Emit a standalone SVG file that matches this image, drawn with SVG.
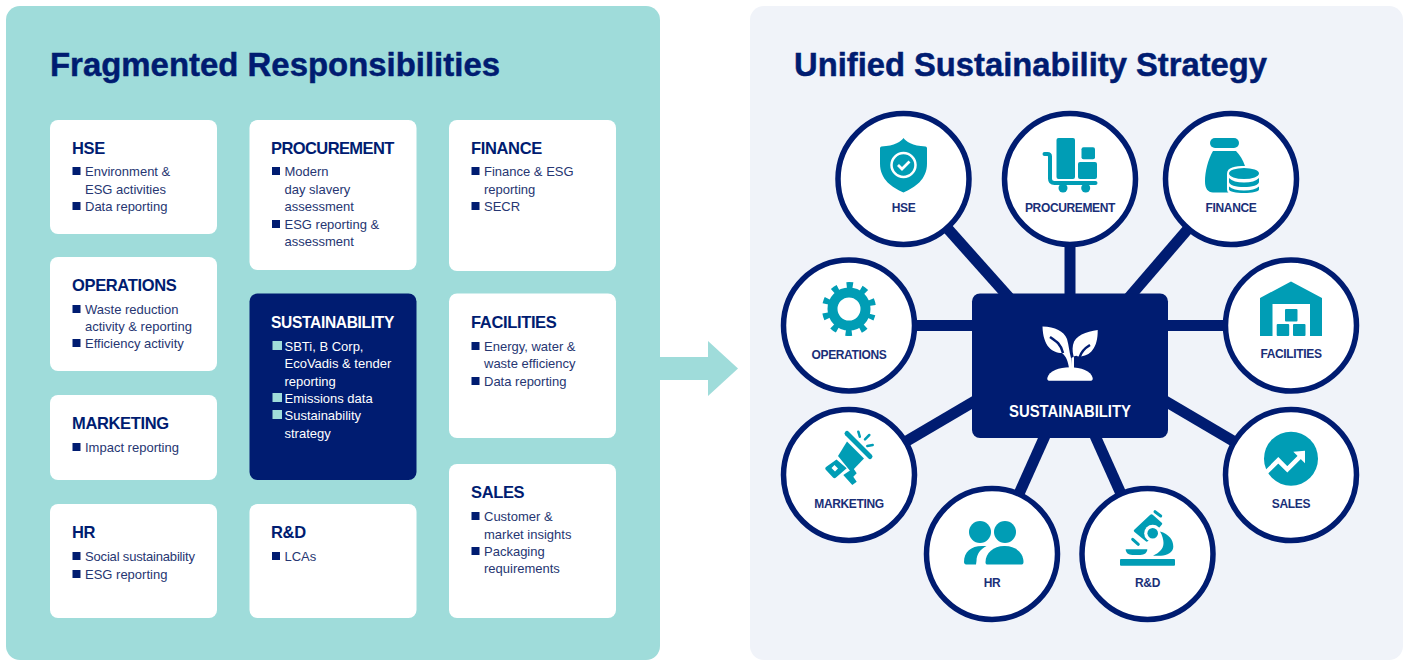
<svg xmlns="http://www.w3.org/2000/svg" width="1407" height="660" viewBox="0 0 1407 660">
<defs><style>
text{font-family:"Liberation Sans",Arial,sans-serif}
.title{font-size:34px;font-weight:700;fill:#001c71;stroke:#001c71;stroke-width:.5px}
.card{fill:#fff}
.dark{fill:#001c71}
.h{font-size:16.5px;font-weight:700;fill:#001c71;letter-spacing:-.35px}
.t{font-size:13px;fill:#263672}
.b{fill:#001c71}
.dk .h,.dk .t{fill:#fff}
.dk .b{fill:#9fdcda}
.c{fill:#fff;stroke:#001c71;stroke-width:5.5}
.l{font-size:12px;font-weight:700;fill:#1a2f78;text-anchor:middle;letter-spacing:-.35px}
.i{fill:#009db5}
.w{fill:#fff}
.ln{stroke:#001c71;stroke-width:11;fill:none}
</style></defs>
<rect x="6" y="6" width="654" height="654" rx="14" fill="#9fdcda"/>
<rect x="750" y="6" width="653" height="654" rx="14" fill="#f0f3f9"/>
<polygon points="660,357 708,357 708,341 738,368.5 708,396 708,380 660,380" fill="#9fdcda"/>
<text class="title" x="50" y="76" textLength="450" lengthAdjust="spacingAndGlyphs">Fragmented Responsibilities</text>
<text class="title" x="794" y="76" textLength="473" lengthAdjust="spacingAndGlyphs">Unified Sustainability Strategy</text>

<g id="card-hse"><rect class="card" x="50" y="120" width="167" height="114" rx="8"/><text class="h" x="72" y="154">HSE</text><rect class="b" x="72.500" y="167" width="8" height="8"/><text class="t" x="85" y="176">Environment &amp;</text><text class="t" x="85" y="194">ESG activities</text><rect class="b" x="72.500" y="202" width="8" height="8"/><text class="t" x="85" y="211">Data reporting</text></g>
<g id="card-operations"><rect class="card" x="50" y="257" width="167" height="114" rx="8"/><text class="h" x="72" y="291">OPERATIONS</text><rect class="b" x="72.500" y="305" width="8" height="8"/><text class="t" x="85" y="314">Waste reduction</text><text class="t" x="85" y="331">activity &amp; reporting</text><rect class="b" x="72.500" y="339" width="8" height="8"/><text class="t" x="85" y="348">Efficiency activity</text></g>
<g id="card-marketing"><rect class="card" x="50" y="395" width="167" height="85" rx="8"/><text class="h" x="72" y="429">MARKETING</text><rect class="b" x="72.500" y="443" width="8" height="8"/><text class="t" x="85" y="452">Impact reporting</text></g>
<g id="card-hr"><rect class="card" x="50" y="504" width="167" height="114" rx="8"/><text class="h" x="72" y="538">HR</text><rect class="b" x="72.500" y="552" width="8" height="8"/><text class="t" x="85" y="561" textLength="110">Social sustainability</text><rect class="b" x="72.500" y="570" width="8" height="8"/><text class="t" x="85" y="579">ESG reporting</text></g>
<g id="card-procurement"><rect class="card" x="249.500" y="120" width="167" height="150" rx="8"/><text class="h" x="271" y="154" textLength="123">PROCUREMENT</text><rect class="b" x="272" y="167" width="8" height="8"/><text class="t" x="284.500" y="176">Modern</text><text class="t" x="284.500" y="194">day slavery</text><text class="t" x="284.500" y="211">assessment</text><rect class="b" x="272" y="220" width="8" height="8"/><text class="t" x="284.500" y="229">ESG reporting &amp;</text><text class="t" x="284.500" y="246">assessment</text></g>
<g id="card-sustainability" class="dk"><rect class="dark" x="249.500" y="293.500" width="167" height="186.500" rx="8"/><text class="h" x="271" y="328" textLength="123" lengthAdjust="spacingAndGlyphs">SUSTAINABILITY</text><rect class="b" x="272.500" y="341" width="9.500" height="9"/><text class="t" x="284.500" y="351">SBTi, B Corp,</text><text class="t" x="284.500" y="368">EcoVadis &amp; tender</text><text class="t" x="284.500" y="386">reporting</text><rect class="b" x="272.500" y="393" width="9.500" height="9"/><text class="t" x="284.500" y="403">Emissions data</text><rect class="b" x="272.500" y="410" width="9.500" height="9"/><text class="t" x="284.500" y="420">Sustainability</text><text class="t" x="284.500" y="438">strategy</text></g>
<g id="card-rd"><rect class="card" x="249.500" y="504" width="167" height="114" rx="8"/><text class="h" x="271" y="538">R&amp;D</text><rect class="b" x="272" y="552" width="8" height="8"/><text class="t" x="284.500" y="561">LCAs</text></g>
<g id="card-finance"><rect class="card" x="449" y="120" width="167" height="151" rx="8"/><text class="h" x="471" y="154">FINANCE</text><rect class="b" x="471.500" y="167" width="8" height="8"/><text class="t" x="484" y="176">Finance &amp; ESG</text><text class="t" x="484" y="194">reporting</text><rect class="b" x="471.500" y="202" width="8" height="8"/><text class="t" x="484" y="211">SECR</text></g>
<g id="card-facilities"><rect class="card" x="449" y="293.500" width="167" height="144.500" rx="8"/><text class="h" x="471" y="328">FACILITIES</text><rect class="b" x="471.500" y="342" width="8" height="8"/><text class="t" x="484" y="351">Energy, water &amp;</text><text class="t" x="484" y="368">waste efficiency</text><rect class="b" x="471.500" y="377" width="8" height="8"/><text class="t" x="484" y="386">Data reporting</text></g>
<g id="card-sales"><rect class="card" x="449" y="464" width="167" height="154" rx="8"/><text class="h" x="471" y="498">SALES</text><rect class="b" x="471.500" y="512" width="8" height="8"/><text class="t" x="484" y="521">Customer &amp;</text><text class="t" x="484" y="539">market insights</text><rect class="b" x="471.500" y="547" width="8" height="8"/><text class="t" x="484" y="556">Packaging</text><text class="t" x="484" y="573">requirements</text></g>

<g id="connectors" class="ln">
<line x1="903.500" y1="179" x2="1070" y2="366"/>
<line x1="1070" y1="179" x2="1070" y2="366"/>
<line x1="1231" y1="179" x2="1070" y2="366"/>
<line x1="849" y1="325.500" x2="1291" y2="325.500"/>
<line x1="849" y1="475" x2="1070" y2="345"/>
<line x1="1291" y1="475" x2="1070" y2="345"/>
<line x1="992" y1="554" x2="1070" y2="380"/>
<line x1="1148" y1="554" x2="1070" y2="380"/>
</g>

<g id="node-sustainability"><rect class="dark" x="972" y="293.500" width="196" height="144.500" rx="8"/>
<path class="w" d="M1042.500 326.500C1055 327 1064 331 1067 339C1069 346 1069 351 1071 358L1072 368H1069C1068 361 1066 356 1062 353C1052 353 1043 346 1042.500 326.500z"/>
<path class="w" d="M1097.700 330C1086 332 1075 335 1073 345C1072 350 1073 354 1074 358L1074 368H1071L1071.500 358C1075 356 1076 355 1078 356.500C1090 357 1098 348 1097.700 330z"/>
<path d="M1050 337C1056 341 1061 344 1063 353M1090 345C1085 348 1081 352 1079.500 357.500" fill="none" stroke="#001c71" stroke-width="2.500"/>
<path class="w" d="M1047.300 378C1049 371 1059 367.300 1070 367.300S1091 371 1092.700 378C1093 380 1092 380.700 1091 380.700H1049C1048 380.700 1047 380 1047.300 378z"/>
<text x="1070" y="417" font-size="16" font-weight="700" fill="#fff" text-anchor="middle" textLength="122" lengthAdjust="spacingAndGlyphs">SUSTAINABILITY</text></g>

<g id="node-hse"><circle class="c" cx="903.500" cy="179" r="65.500"/>
<path class="i" d="M903.500 138c2 3 9 8 22 8.500 1 0 1.500 1 1.500 2v15c0 16-12 24-23.500 29-11.500-5-23.500-13-23.500-29v-15c0-1 .5-2 1.500-2 13-.5 20-5.500 22-8.500z"/>
<circle cx="903.500" cy="165" r="12" fill="none" stroke="#fff" stroke-width="2.500"/><path d="M898 165l4 4 7.500-7.500" fill="none" stroke="#fff" stroke-width="2.800"/>
<text class="l" x="903.500" y="212">HSE</text></g>

<g id="node-procurement"><circle class="c" cx="1070" cy="179" r="65.500"/>
<rect class="i" x="1056.500" y="138" width="18.500" height="41" rx="2"/><rect class="i" x="1081.500" y="147.300" width="13.500" height="12" rx="2"/><rect class="i" x="1078" y="162" width="19" height="17" rx="2"/>
<path d="M1044.500 154h3c1.500 0 2.500 1 2.500 2.500v22c0 3 1.500 4.500 4.500 4.500h41" fill="none" stroke="#009db5" stroke-width="4" stroke-linecap="round"/>
<circle class="i" cx="1063" cy="188" r="4.500"/><circle class="i" cx="1085.700" cy="188" r="4.500"/>
<text class="l" x="1070" y="212">PROCUREMENT</text></g>

<g id="node-finance"><circle class="c" cx="1231" cy="179" r="65.500"/>
<rect class="i" x="1210" y="138" width="29" height="10" rx="5"/>
<path class="i" d="M1213 151h23c4 4 7 9 9 15-10 0-18 1-18 8v15c0 1.500.5 3 1.500 3.500h-15.500c-5 0-8-4-8-11 0-10 3-22 8-30.500z"/>
<ellipse class="i" cx="1244" cy="173.500" rx="15" ry="5.500"/>
<path class="i" d="M1229 178c3 3 8 4.500 15 4.500s12-1.500 15-4.500v4c0 3-7 5-15 5s-15-2-15-5zM1229 186.500c3 2.500 8 4 15 4s12-1.500 15-4v3c0 2-7 3.500-15 3.500s-15-1.500-15-3.500z"/>
<text class="l" x="1231" y="212">FINANCE</text></g>

<g id="node-operations"><circle class="c" cx="849" cy="325.500" r="65.500"/>
<circle cx="849" cy="309" r="16.500" fill="none" stroke="#009db5" stroke-width="10"/>
<circle cx="849" cy="309" r="23.500" fill="none" stroke="#009db5" stroke-width="7" stroke-dasharray="6 8.765" stroke-dashoffset="3" transform="rotate(18 849 309)"/>
<text class="l" x="849" y="359">OPERATIONS</text></g>

<g id="node-facilities"><circle class="c" cx="1291" cy="325.500" r="65.500"/>
<path class="i" d="M1291 281.500l31 16.500v38h-12v-32h-37.500v32H1260v-38z"/>
<rect class="i" x="1285" y="309" width="12.500" height="12.500" rx="1"/><rect class="i" x="1276.700" y="324" width="12.500" height="12" rx="1"/><rect class="i" x="1293" y="324" width="12.500" height="12" rx="1"/>
<text class="l" x="1291" y="358">FACILITIES</text></g>

<g id="node-marketing"><circle class="c" cx="849" cy="475" r="65.500"/>
<path d="M847 433.500L870 456.500" stroke="#009db5" stroke-width="5" stroke-linecap="round" fill="none"/>
<polygon class="i" points="847,441.500 864,458.500 851,472 838,456"/>
<path class="i" fill-rule="evenodd" d="M836.500 459.500L826 467C825 468 825 469 826 470L833 477.500C834 478.500 835 478.500 836 477.500L846.700 468.300zM834.500 465L831.500 468L835 471.500L838 468.500z"/>
<path class="i" d="M843.300 475L853.300 468.300L856.700 473.300L853.300 476.700L856.700 481.700L852.300 485z"/>
<path d="M858.300 431.700l1.500 5M869.300 435l-4.300 4.300M872.700 445l-5.400 1" stroke="#009db5" stroke-width="2.500" stroke-linecap="round" fill="none"/>
<text class="l" x="849" y="508">MARKETING</text></g>

<g id="node-hr"><circle class="c" cx="992" cy="554" r="65.500"/>
<circle class="i" cx="980" cy="532" r="11"/><circle class="i" cx="1005" cy="532" r="11"/>
<path class="i" d="M964 562c0-10 7-16 18-16h4.500c-6 3-10 8-10 15l-.5 3.500h-10c-1 0-2-1-2-2.500z"/>
<path class="i" d="M985.500 562c0-9 8-16 18.500-16h1c11 0 18.500 7 18.500 16 0 2-1 2.500-2.500 2.500h-33c-2 0-2.500-.5-2.500-2.500z"/>
<text class="l" x="992" y="587">HR</text></g>

<g id="node-rd"><circle class="c" cx="1147.500" cy="554" r="65.500"/>
<path class="i" d="M1150 515C1151 514 1152 514 1153 515L1161.500 522.500C1162.500 523.500 1162.500 524 1161.500 525L1148 541C1147 542 1146.500 542 1145.500 541L1134.500 532C1133.500 531 1133.500 530.500 1134.500 529.500z"/>
<circle class="w" cx="1152.700" cy="533.300" r="8.500"/><circle class="i" cx="1152.700" cy="533.300" r="5.300"/>
<path d="M1155 511.700l5.700 4.300M1132.700 539.300l5.600 5" stroke="#009db5" stroke-width="3" fill="none" stroke-linecap="round"/>
<path class="i" d="M1160 531.500C1169 534 1173.300 540 1173.300 546.700C1173.300 552 1167 555.700 1161 555.700H1153C1159 553 1163.500 549 1163.500 543C1163.500 540 1162.500 535.500 1160 531.500z"/>
<path class="i" d="M1125.700 549.300h21.600c0 3.500-3 5.700-7 5.700h-8c-4 0-6.600-2.200-6.600-5.700z"/>
<rect class="i" x="1120" y="559" width="55" height="6.700" rx="1"/>
<text class="l" x="1147.500" y="587">R&amp;D</text></g>

<g id="node-sales"><circle class="c" cx="1291" cy="475" r="65.500"/>
<circle class="i" cx="1291" cy="458.700" r="27"/>
<path d="M1265.500 473l12.800-12.700 9 9 14-14" fill="none" stroke="#fff" stroke-width="4.500"/><polygon class="w" points="1293.300,451.700 1305,450.700 1305,463.300"/>
<text class="l" x="1291" y="508">SALES</text></g>
</svg>
